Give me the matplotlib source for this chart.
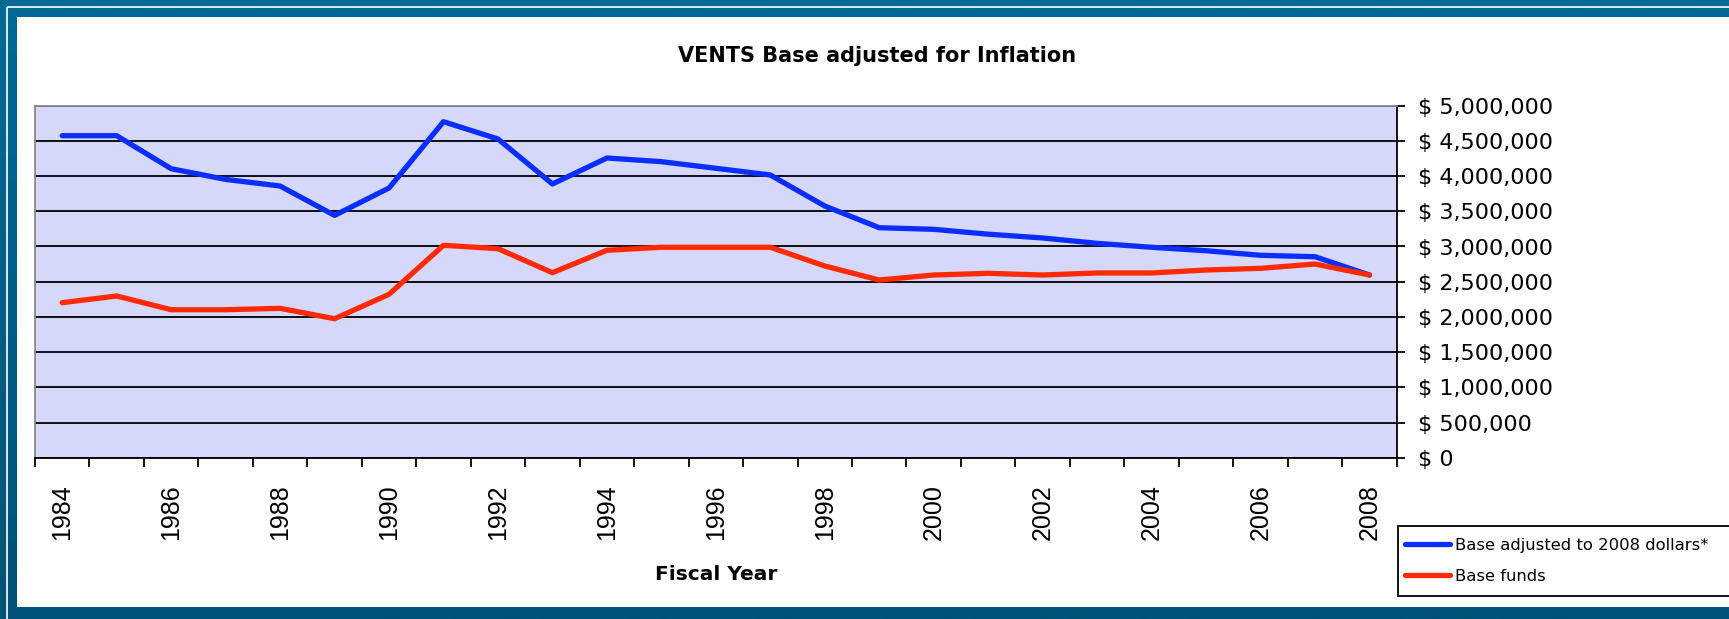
import matplotlib
matplotlib.use("Agg")
import matplotlib.pyplot as plt
import numpy as np
from matplotlib.patches import Rectangle
from matplotlib.ticker import FuncFormatter, FixedLocator

# ---- data ----
years = list(range(1984, 2009))
adjusted_2008 = [4574000, 4574000, 4105000, 3953000, 3859000, 3442000, 3831000,
                 4773000, 4527000, 3888000, 4257000, 4205000, 4111000, 4016000,
                 3575000, 3267000, 3244000, 3175000, 3121000, 3045000, 2989000,
                 2940000, 2875000, 2855000, 2595000]
base_funds = [2202000, 2297000, 2102000, 2102000, 2122000, 1974000, 2321000,
              3017000, 2969000, 2628000, 2946000, 2989000, 2989000, 2989000,
              2723000, 2524000, 2595000, 2619000, 2595000, 2624000, 2624000,
              2666000, 2690000, 2751000, 2595000]
series_labels = ["Base adjusted to 2008 dollars*", "Base funds"]
title_text = "VENTS Base adjusted for Inflation"
xlabel_text = "Fiscal Year"
ytick_values = list(range(0, 5000001, 500000))

W, H = 1729, 619
fig = plt.figure(figsize=(W / 100, H / 100), dpi=100)

# ---- frame background ----
bg = fig.add_axes([0, 0, 1, 1], zorder=-10)
bg.set_xlim(0, W)
bg.set_ylim(H, 0)
bg.axis("off")
top_c = np.array([0, 106, 150]) / 255
bot_c = np.array([0, 82, 118]) / 255
t = np.linspace(0, 1, 256)[:, None]
grad = (top_c[None, :] * (1 - t) + bot_c[None, :] * t)[:, None, :]
bg.imshow(grad, extent=(0, W, H, 0), aspect="auto", interpolation="bilinear")
bg.add_patch(Rectangle((7.2, 7.2), W + 50, H + 50, facecolor="none",
                       edgecolor="white", lw=1.2))
bg.add_patch(Rectangle((16.7, 16.7), W + 50, 606.7 - 16.7, facecolor="white",
                       edgecolor="none"))
# legend box (runs off the right edge, as in the original)
bg.add_patch(Rectangle((1397.7, 526), 400, 70, facecolor="white",
                       edgecolor="black", lw=1.3, zorder=5))

# ---- main axes ----
L, R, T, B = 35, 1396.7, 105.7, 457.7
ax = fig.add_axes([L / W, 1 - B / H, (R - L) / W, (B - T) / H])
ax.set_facecolor("#D5D7FB")
x = np.arange(len(years))
ax.plot(x, adjusted_2008, color="#0A2EFF", lw=3.8, solid_capstyle="round",
        solid_joinstyle="round", label=series_labels[0], zorder=3)
ax.plot(x, base_funds, color="#FF2A00", lw=3.8, solid_capstyle="round",
        solid_joinstyle="round", label=series_labels[1], zorder=3)
ax.set_xlim(-0.5, len(years) - 0.5)
ax.set_ylim(0, 5000000)

# y axis on the right
ax.yaxis.tick_right()
ax.set_yticks(ytick_values)
ax.yaxis.set_major_formatter(FuncFormatter(lambda v, p: "$ {:,.0f}".format(v)))
ax.tick_params(axis="y", direction="out", length=6, width=1.3, pad=9,
               labelsize=16, colors="black")
ax.grid(axis="y", color="black", lw=1.3)
ax.set_axisbelow(True)

# x axis: boundary ticks, labels every other year
ax.xaxis.set_major_locator(FixedLocator(np.arange(-0.5, len(years), 1.0)))
ax.xaxis.set_major_formatter(FuncFormatter(lambda v, p: ""))
lab_pos = [i for i, y in enumerate(years) if (y - years[0]) % 2 == 0]
ax.xaxis.set_minor_locator(FixedLocator(lab_pos))
ax.xaxis.set_minor_formatter(FuncFormatter(lambda v, p: str(years[int(round(v))])))
ax.tick_params(axis="x", which="major", direction="out", length=6.5, width=1.3)
ax.tick_params(axis="x", which="minor", length=0, pad=19, labelsize=18,
               labelrotation=90)
for lbl in ax.get_xticklabels(minor=True):
    lbl.set_family("Liberation Sans")

for s in ["top", "left"]:
    ax.spines[s].set_color("#888888")
    ax.spines[s].set_linewidth(1.3)
for s in ["bottom", "right"]:
    ax.spines[s].set_color("black")
    ax.spines[s].set_linewidth(1.3)

# ---- titles ----
fig.text(877 / W, 1 - 56 / H, title_text, ha="center", va="center",
         fontsize=15, fontweight="bold")
fig.text(716 / W, 1 - 575 / H, xlabel_text, ha="center", va="center",
         fontsize=14.5, fontweight="bold")

# ---- legend ----
handles, labels = ax.get_legend_handles_labels()
leg = fig.legend(handles, labels, loc="center left",
                 bbox_to_anchor=(1405 / W, 1 - 561 / H), borderaxespad=0,
                 fontsize=11.8, frameon=False,
                 handlelength=2.75, handletextpad=0.3, labelspacing=1.0,
                 borderpad=0)
leg.set_zorder(10)

fig.savefig("out.png", dpi=100)
